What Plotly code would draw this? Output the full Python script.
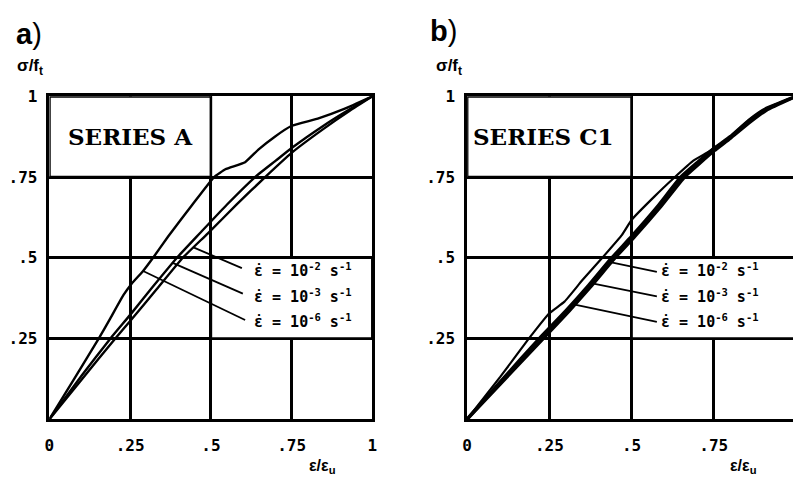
import numpy as np
import plotly.graph_objects as go

# ---- normalised stress-strain curves (eps/eps_u, sigma/f_t) ----
# Series A
a_rate2_x = [0, 0.10, 0.204, 0.25, 0.33, 0.413, 0.49, 0.58, 0.668, 0.75, 0.85, 0.93, 1.0]
a_rate2_y = [0, 0.123, 0.25, 0.304, 0.40, 0.50, 0.575, 0.665, 0.75, 0.825, 0.90, 0.955, 1.0]
a_rate3_x = [0, 0.10, 0.189, 0.25, 0.32, 0.395, 0.465, 0.55, 0.637, 0.70, 0.75, 0.85, 0.93, 1.0]
a_rate3_y = [0, 0.135, 0.25, 0.323, 0.41, 0.50, 0.575, 0.665, 0.75, 0.80, 0.84, 0.91, 0.96, 1.0]
a_rate6_x = [0, 0.08, 0.153, 0.189, 0.229, 0.254, 0.29, 0.321, 0.367, 0.443, 0.51, 0.545, 0.606, 0.647, 0.698, 0.749, 0.831, 0.913, 1.0]
a_rate6_y = [0, 0.13, 0.25, 0.313, 0.384, 0.419, 0.459, 0.50, 0.565, 0.665, 0.75, 0.774, 0.796, 0.835, 0.875, 0.908, 0.931, 0.961, 1.0]

# Series C1
c_rate2_x = [0, 0.10, 0.232, 0.31, 0.38, 0.45, 0.51, 0.59, 0.661, 0.71, 0.752, 0.80, 0.86, 0.91, 1.0]
c_rate2_y = [0, 0.108, 0.25, 0.335, 0.415, 0.50, 0.566, 0.66, 0.75, 0.795, 0.832, 0.87, 0.92, 0.957, 1.0]
c_rate3_x = [0, 0.10, 0.22, 0.30, 0.37, 0.44, 0.50, 0.58, 0.65, 0.70, 0.746, 0.80, 0.857, 0.907, 1.0]
c_rate3_y = [0, 0.115, 0.25, 0.335, 0.415, 0.50, 0.566, 0.66, 0.75, 0.795, 0.835, 0.875, 0.926, 0.961, 1.0]
c_rate6_x = [0, 0.10, 0.188, 0.25, 0.296, 0.35, 0.411, 0.471, 0.50, 0.57, 0.632, 0.687, 0.737, 0.80, 0.857, 0.907, 1.0]
c_rate6_y = [0, 0.13, 0.25, 0.328, 0.364, 0.43, 0.50, 0.571, 0.617, 0.69, 0.75, 0.80, 0.83, 0.875, 0.926, 0.961, 1.0]

tick_vals = [0, 0.25, 0.5, 0.75, 1]
x_tick_text = ["0", ".25", ".5", ".75", "1"]
y_tick_vals = [0.25, 0.5, 0.75, 1]
y_tick_text = [".25", ".5", ".75", "1"]
rate_labels = ["ε̇ = 10<sup>-2</sup> s<sup>-1</sup>",
               "ε̇ = 10<sup>-3</sup> s<sup>-1</sup>",
               "ε̇ = 10<sup>-6</sup> s<sup>-1</sup>"]
panel_titles = ["SERIES A", "SERIES C1"]

W, H = 798, 479
BLACK = "#000000"
MONO = "DejaVu Sans Mono"
GRID_W = 2.6

def bold(items):
    return ["<b>" + s + "</b>" for s in items]

fig = go.Figure()

def curve(x, y, xa, ya, w):
    fig.add_trace(go.Scatter(x=x, y=y, xaxis=xa, yaxis=ya, mode="lines",
                             line=dict(color=BLACK, width=w, shape="spline", smoothing=0.4),
                             showlegend=False, hoverinfo="skip"))

curve(a_rate2_x, a_rate2_y, "x", "y", 2.4)
curve(a_rate3_x, a_rate3_y, "x", "y", 2.4)
curve(a_rate6_x, a_rate6_y, "x", "y", 2.4)
curve(c_rate6_x, c_rate6_y, "x2", "y2", 2.2)
curve(c_rate3_x, c_rate3_y, "x2", "y2", 3.4)
curve(c_rate2_x, c_rate2_y, "x2", "y2", 3.4)

# plot-area placement in pixels
ax_l, ax_r = 45, 372
bx_l = 468
y_top, y_bot = 89, 418
b_px_per_unit = 333.0

tickfont = dict(family=MONO, size=16, color=BLACK)
common_x = dict(tickmode="array", tickvals=tick_vals, ticktext=bold(x_tick_text),
                showgrid=True, gridcolor=BLACK, gridwidth=GRID_W, zeroline=False,
                showline=True, linecolor=BLACK, linewidth=GRID_W, mirror=True,
                ticks="outside", ticklen=10, tickcolor="rgba(0,0,0,0)",
                tickfont=tickfont, fixedrange=True)
common_y = dict(tickmode="array", tickvals=y_tick_vals, ticktext=bold(y_tick_text),
                showgrid=True, gridcolor=BLACK, gridwidth=GRID_W, zeroline=False,
                showline=True, linecolor=BLACK, linewidth=GRID_W,
                ticks="outside", ticklen=6, tickcolor="rgba(0,0,0,0)",
                tickfont=tickfont, range=[0, 1], fixedrange=True,
                domain=[(H - y_bot) / H, (H - y_top) / H])

fig.update_layout(
    width=W, height=H, margin=dict(l=0, r=0, t=0, b=0),
    paper_bgcolor="white", plot_bgcolor="white", showlegend=False,
    xaxis=dict(common_x, domain=[ax_l / W, ax_r / W], range=[0, 1], anchor="y"),
    yaxis=dict(common_y, mirror=True, anchor="x"),
    xaxis2=dict(common_x, domain=[bx_l / W, 1.0],
                range=[0, (W - bx_l) / b_px_per_unit], anchor="y2"),
    yaxis2=dict(common_y, mirror=False, anchor="x2"),
)

shapes = []
# white boxes holding the series name and the rate labels
for xr, yr in (("x", "y"), ("x2", "y2")):
    shapes.append(dict(type="rect", xref=xr, yref=yr, x0=0, x1=0.5, y0=0.75, y1=1,
                       fillcolor="white", line=dict(color=BLACK, width=GRID_W), layer="between"))
    shapes.append(dict(type="rect", xref=xr, yref=yr, x0=0.5, x1=1, y0=0.25, y1=0.5,
                       fillcolor="white", line=dict(color=BLACK, width=GRID_W), layer="between"))

# leader lines from labels to curves
def tip_on(xs, ys, yv):
    return float(np.interp(yv, ys, xs)), yv

a_tails = [(0.596, 0.468), (0.599, 0.389), (0.606, 0.307)]
a_tips = [tip_on(a_rate2_x, a_rate2_y, 0.532),
          tip_on(a_rate3_x, a_rate3_y, 0.484),
          tip_on(a_rate6_x, a_rate6_y, 0.459)]
b_tails = [(0.577, 0.456), (0.577, 0.380), (0.577, 0.301)]
b_tips = [tip_on(c_rate2_x, c_rate2_y, 0.486),
          tip_on(c_rate2_x, c_rate2_y, 0.42),
          tip_on(c_rate2_x, c_rate2_y, 0.355)]
for (xr, yr), tails, tips in ((("x", "y"), a_tails, a_tips), (("x2", "y2"), b_tails, b_tips)):
    for (tx, ty), (px, py) in zip(tails, tips):
        shapes.append(dict(type="line", xref=xr, yref=yr, x0=tx, y0=ty, x1=px, y1=py,
                           line=dict(color=BLACK, width=1.8), layer="above"))
fig.update_layout(shapes=shapes)

ann = []
label_rows = [0.462, 0.381, 0.303]
for (xr, yr), x0, title, tx in ((("x", "y"), 0.627, panel_titles[0], 0.05),
                                (("x2", "y2"), 0.583, panel_titles[1], 0.012)):
    ann.append(dict(xref=xr, yref=yr, x=tx, y=0.875, text="<b>" + title + "</b>",
                    showarrow=False, xanchor="left", yanchor="middle",
                    font=dict(family="DejaVu Serif", size=23, color=BLACK)))
    for lab, yy in zip(rate_labels, label_rows):
        ann.append(dict(xref=xr, yref=yr, x=x0, y=yy, text="<b>" + lab + "</b>",
                        showarrow=False, xanchor="left", yanchor="middle",
                        font=dict(family=MONO, size=15, color=BLACK)))

def paper_text(px, py, text, size, family="Liberation Sans", xanchor="left"):
    ann.append(dict(xref="paper", yref="paper", x=px / W, y=1 - py / H, text=text,
                    showarrow=False, xanchor=xanchor, yanchor="middle",
                    font=dict(family=family, size=size, color=BLACK)))

paper_text(9, 25, "<b>a</b>)", 29)
paper_text(428, 22, "<b>b</b>)", 29)
paper_text(10, 59, "<b>σ/f<sub>t</sub></b>", 17)
paper_text(434, 59, "<b>σ/f<sub>t</sub></b>", 17)
paper_text(322, 466, "<b>ε/ε<sub>u</sub></b>", 16, xanchor="center")
paper_text(748, 466, "<b>ε/ε<sub>u</sub></b>", 16, xanchor="center")
fig.update_layout(annotations=ann)

fig.write_html("out.html")
